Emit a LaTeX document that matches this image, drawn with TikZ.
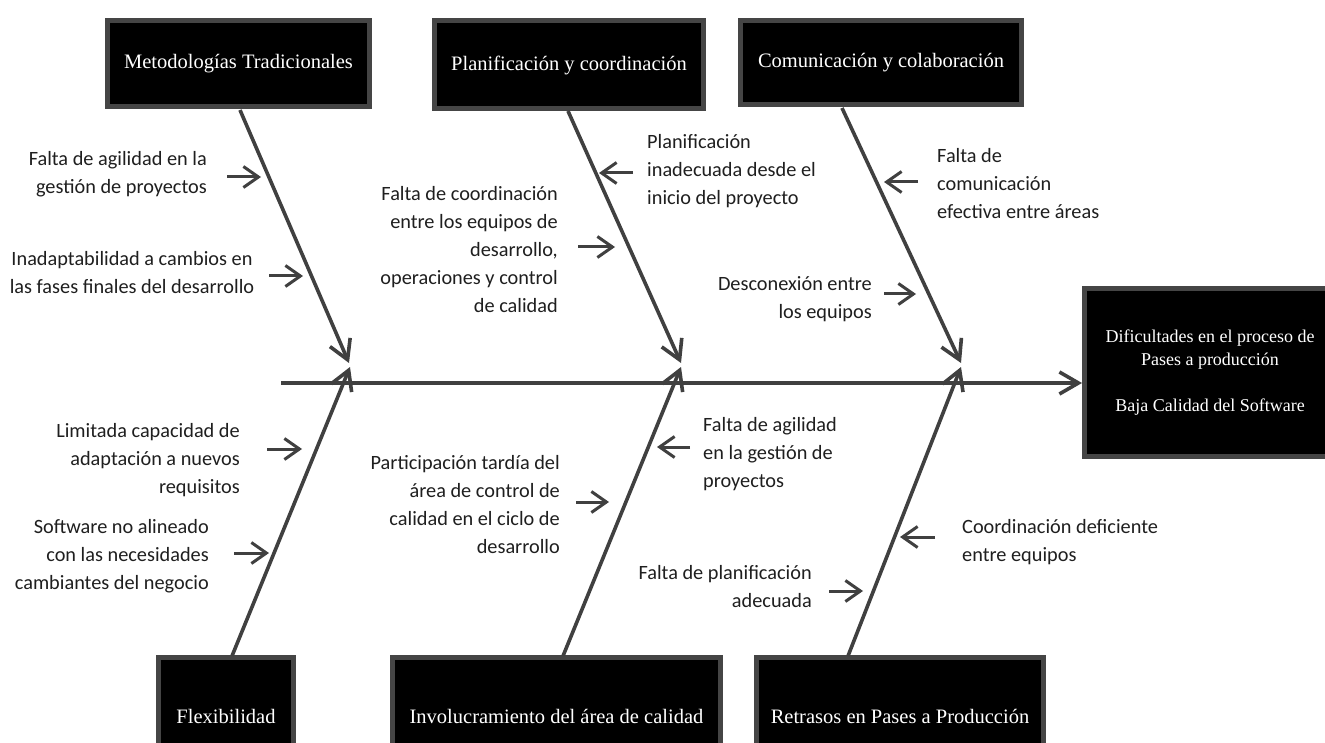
\documentclass[tikz,border=0pt]{standalone}
\usepackage{fontspec}
\setmainfont{Liberation Serif}
\newfontfamily\labelfont{Carlito}
\usetikzlibrary{arrows.meta}
\definecolor{bone}{HTML}{404040}
\definecolor{boxborder}{HTML}{454545}
\tikzset{
  catbox/.style={draw=boxborder, line width=5pt, fill=black, text=white, inner sep=0pt,
    font=\fontsize{20.5}{24}\selectfont, align=center},
  effbox/.style={catbox, font=\fontsize{18}{23}\selectfont},
  bonearrow/.style={draw=bone, line width=3.6pt, -{Straight Barb[length=19pt,width=22pt,line width=3.6pt]}},
  smallarrow/.style={draw=bone, line width=3pt, -{Straight Barb[length=15pt,width=21pt,line width=3pt]}},
  cause/.style={inner sep=0pt, text=black!88, font=\labelfont\fontsize{20.3}{28}\selectfont},
  causeR/.style={cause, align=right, anchor=east},
  causeL/.style={cause, align=left, anchor=west},
  causeC/.style={cause, align=center}
}
\begin{document}
\begin{tikzpicture}[x=1pt,y=-1pt]
\clip (0,0) rectangle (1325,743);
\fill[white] (0,0) rectangle (1325,743);

% category boxes
\node[catbox, minimum width=262pt, minimum height=86pt] (metod) at (238.5,63.5) {Metodologías Tradicionales};
\node[catbox, minimum width=269pt, minimum height=88pt] (plan) at (569,65) {Planificación y coordinación};
\node[catbox, minimum width=281pt, minimum height=84pt] (comu) at (881,63) {Comunicación y colaboración};
\node[catbox, minimum width=135pt, minimum height=118pt] (flex) at (226,716) {Flexibilidad};
\node[catbox, minimum width=328pt, minimum height=118pt] (invol) at (556.5,716) {Involucramiento del área de calidad};
\node[catbox, minimum width=287pt, minimum height=118pt] (retr) at (900,716) {Retrasos en Pases a Producción};
\node[effbox, minimum width=251pt, minimum height=168pt] (eff) at (1210,372.5)
  {Dificultades en el proceso de\\Pases a producción\\[23pt]Baja Calidad del Software};

% bone coordinates
\coordinate (u1s) at (240,110);
\coordinate (u1t) at (349,363);
\coordinate (u2s) at (568,111);
\coordinate (u2t) at (681,363);
\coordinate (u3s) at (842,108);
\coordinate (u3t) at (961,363);
\coordinate (l1s) at (232,656);
\coordinate (l1t) at (350,367);
\coordinate (l2s) at (563,656);
\coordinate (l2t) at (681,367);
\coordinate (l3s) at (848,656);
\coordinate (l3t) at (961,367);
\coordinate (spine) at (281,383);

% spine
\draw[bonearrow] (spine) -- (eff.west |- spine);

% bones
\draw[bonearrow] (u1s) -- (u1t);
\draw[bonearrow] (u2s) -- (u2t);
\draw[bonearrow] (u3s) -- (u3t);
\draw[bonearrow] (l1s) -- (l1t);
\draw[bonearrow] (l2s) -- (l2t);
\draw[bonearrow] (l3s) -- (l3t);

% cause texts
\node[causeR] (t1) at (207,174) {Falta de agilidad en la\\gestión de proyectos};
\node[causeC] (t2) at (132,273) {Inadaptabilidad a cambios en\\las fases finales del desarrollo};
\node[causeR] (t3) at (558,250) {Falta de coordinación\\entre los equipos de\\desarrollo,\\operaciones y control\\de calidad};
\node[causeL] (t4) at (647,171) {Planificación\\inadecuada desde el\\inicio del proyecto};
\node[causeL] (t5) at (937,184) {Falta de\\comunicación\\efectiva entre áreas};
\node[causeR] (t6) at (872,299) {Desconexión entre\\los equipos};
\node[causeR] (t7) at (240,460) {Limitada capacidad de\\adaptación a nuevos\\requisitos};
\node[causeR] (t8) at (209,556) {Software no alineado\\con las necesidades\\cambiantes del negocio};
\node[causeR] (t9) at (560,504.5) {Participación tardía del\\área de control de\\calidad en el ciclo de\\desarrollo};
\node[causeL] (t10) at (703,454) {Falta de agilidad\\en la gestión de\\proyectos};
\node[causeL] (t11) at (962,542) {Coordinación deficiente\\entre equipos};
\node[causeR] (t12) at (812,586.5) {Falta de planificación\\adecuada};

% small arrow coordinates
\coordinate (a1s) at (227,177);  \coordinate (a1t) at (261,177);
\coordinate (a2s) at (269,276);  \coordinate (a2t) at (303,276);
\coordinate (a3s) at (578,247);  \coordinate (a3t) at (615,247);
\coordinate (a4s) at (633,173);  \coordinate (a4t) at (599,173);
\coordinate (a5s) at (918,182);  \coordinate (a5t) at (884,182);
\coordinate (a6s) at (884,294);  \coordinate (a6t) at (916,294);
\coordinate (b1s) at (267,449);  \coordinate (b1t) at (302,449);
\coordinate (b2s) at (234,553);  \coordinate (b2t) at (269,553);
\coordinate (b3s) at (576,502);  \coordinate (b3t) at (609,502);
\coordinate (b4s) at (690,447);  \coordinate (b4t) at (657,447);
\coordinate (b5s) at (935,537);  \coordinate (b5t) at (900,537);
\coordinate (b6s) at (829,591);  \coordinate (b6t) at (863,591);

\draw[smallarrow] (a1s) -- (a1t);
\draw[smallarrow] (a2s) -- (a2t);
\draw[smallarrow] (a3s) -- (a3t);
\draw[smallarrow] (a4s) -- (a4t);
\draw[smallarrow] (a5s) -- (a5t);
\draw[smallarrow] (a6s) -- (a6t);
\draw[smallarrow] (b1s) -- (b1t);
\draw[smallarrow] (b2s) -- (b2t);
\draw[smallarrow] (b3s) -- (b3t);
\draw[smallarrow] (b4s) -- (b4t);
\draw[smallarrow] (b5s) -- (b5t);
\draw[smallarrow] (b6s) -- (b6t);
\end{tikzpicture}
\end{document}
